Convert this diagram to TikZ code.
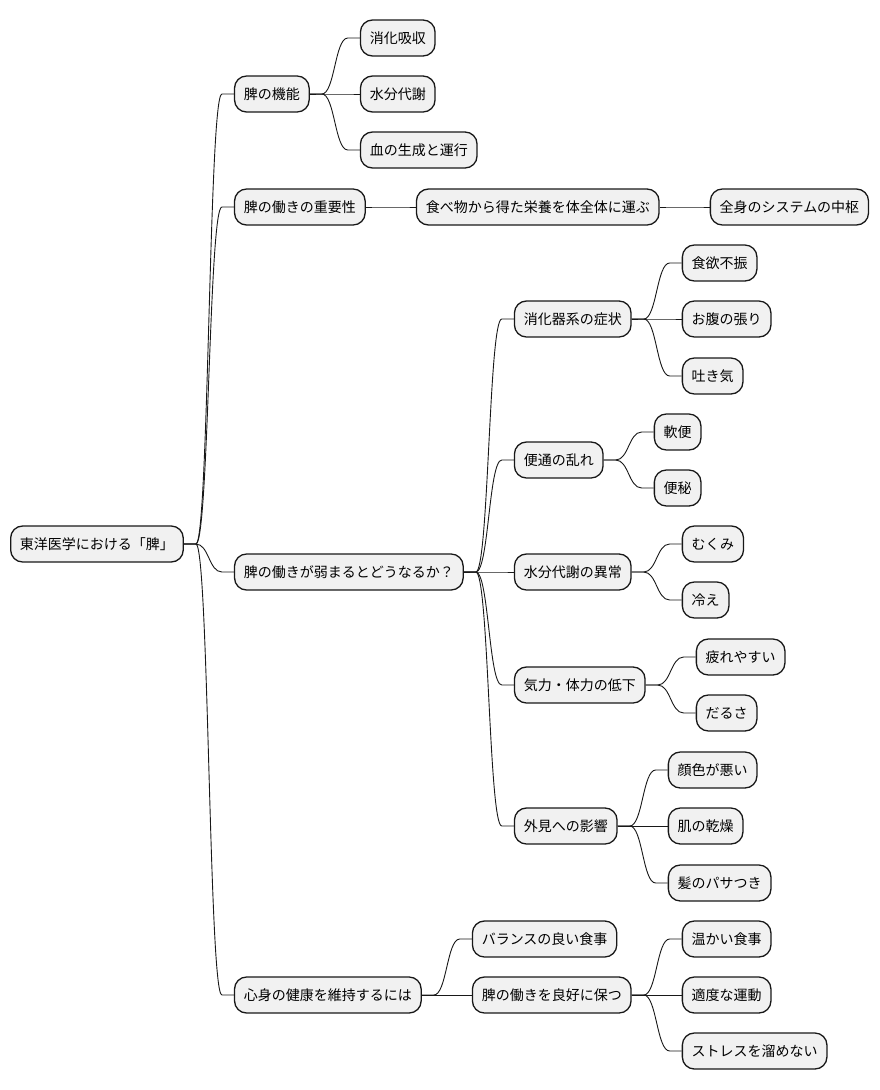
\documentclass[tikz,border=0pt]{standalone}
\usepackage{fontspec}
\newfontfamily\jpfont{Noto Sans CJK JP}
\usetikzlibrary{positioning}
\definecolor{boxfill}{HTML}{F1F1F1}
\definecolor{boxline}{HTML}{181818}

\begin{document}
\begin{tikzpicture}[
  box/.style={rectangle, rounded corners=12pt, draw=boxline, fill=boxfill, line width=1.3pt, minimum height=36pt, inner xsep=9.3pt, text height=12pt, text depth=2pt, font=\jpfont\fontsize{14pt}{16pt}\selectfont},
  branch/.style={draw=boxline, line width=0.9pt}
]
\useasboundingbox (0,0) rectangle (880pt,-1090pt);

% Wurzel
\node[box, anchor=west] (root) at (10pt,-544pt) {東洋医学における「脾」};
% Ebene 1
\node[box, right=50pt of root, yshift=450pt] (kinou) {脾の機能};
\node[box, right=50pt of root, yshift=337pt] (juuyou) {脾の働きの重要性};
\node[box, right=50pt of root, yshift=-28pt] (yowaru) {脾の働きが弱まるとどうなるか？};
\node[box, right=50pt of root, yshift=-451pt] (shinshin) {心身の健康を維持するには};
% Funktionen
\node[box, right=50pt of kinou, yshift=56pt] (shouhua) {消化吸収};
\node[box, right=50pt of kinou] (suibunA) {水分代謝};
\node[box, right=50pt of kinou, yshift=-56pt] (chi) {血の生成と運行};
% Bedeutung
\node[box, right=50pt of juuyou] (eiyou) {食べ物から得た栄養を体全体に運ぶ};
\node[box, right=50pt of eiyou] (chusu) {全身のシステムの中枢};
% Symptome
\node[box, right=50pt of yowaru, yshift=253pt] (shouka) {消化器系の症状};
\node[box, right=50pt of yowaru, yshift=112pt] (bentsu) {便通の乱れ};
\node[box, right=50pt of yowaru] (suibun) {水分代謝の異常};
\node[box, right=50pt of yowaru, yshift=-113pt] (kiryoku) {気力・体力の低下};
\node[box, right=50pt of yowaru, yshift=-254pt] (gaiken) {外見への影響};
\node[box, right=50pt of shouka, yshift=56pt] (shokuyoku) {食欲不振};
\node[box, right=50pt of shouka] (hara) {お腹の張り};
\node[box, right=50pt of shouka, yshift=-57pt] (hakike) {吐き気};
\node[box, right=50pt of bentsu, yshift=28pt] (nanben) {軟便};
\node[box, right=50pt of bentsu, yshift=-28pt] (benpi) {便秘};
\node[box, right=50pt of suibun, yshift=28pt] (mukumi) {むくみ};
\node[box, right=50pt of suibun, yshift=-28pt] (hie) {冷え};
\node[box, right=50pt of kiryoku, yshift=28pt] (tsukare) {疲れやすい};
\node[box, right=50pt of kiryoku, yshift=-28pt] (darusa) {だるさ};
\node[box, right=50pt of gaiken, yshift=56pt] (kaoiro) {顔色が悪い};
\node[box, right=50pt of gaiken] (hada) {肌の乾燥};
\node[box, right=50pt of gaiken, yshift=-57pt] (kami) {髪のパサつき};
% Gesundheit
\node[box, right=50pt of shinshin, yshift=56pt] (balance) {バランスの良い食事};
\node[box, right=50pt of shinshin] (ryoukou) {脾の働きを良好に保つ};
\node[box, right=50pt of ryoukou, yshift=56pt] (atatakai) {温かい食事};
\node[box, right=50pt of ryoukou] (undou) {適度な運動};
\node[box, right=50pt of ryoukou, yshift=-56pt] (stress) {ストレスを溜めない};

% Verbindungen
\foreach \a/\b in {root/kinou, root/juuyou, root/yowaru, root/shinshin,
  kinou/shouhua, kinou/suibunA, kinou/chi, juuyou/eiyou, eiyou/chusu,
  yowaru/shouka, yowaru/bentsu, yowaru/suibun, yowaru/kiryoku, yowaru/gaiken,
  shouka/shokuyoku, shouka/hara, shouka/hakike, bentsu/nanben, bentsu/benpi,
  suibun/mukumi, suibun/hie, kiryoku/tsukare, kiryoku/darusa,
  gaiken/kaoiro, gaiken/hada, gaiken/kami,
  shinshin/balance, shinshin/ryoukou, ryoukou/atatakai, ryoukou/undou, ryoukou/stress}
  \draw[branch] (\a.east) -- ++(12pt,0) .. controls +(13pt,0) and ([xshift=-25pt]\b.west) .. ([xshift=-12pt]\b.west) -- (\b.west);
\end{tikzpicture}
\end{document}
